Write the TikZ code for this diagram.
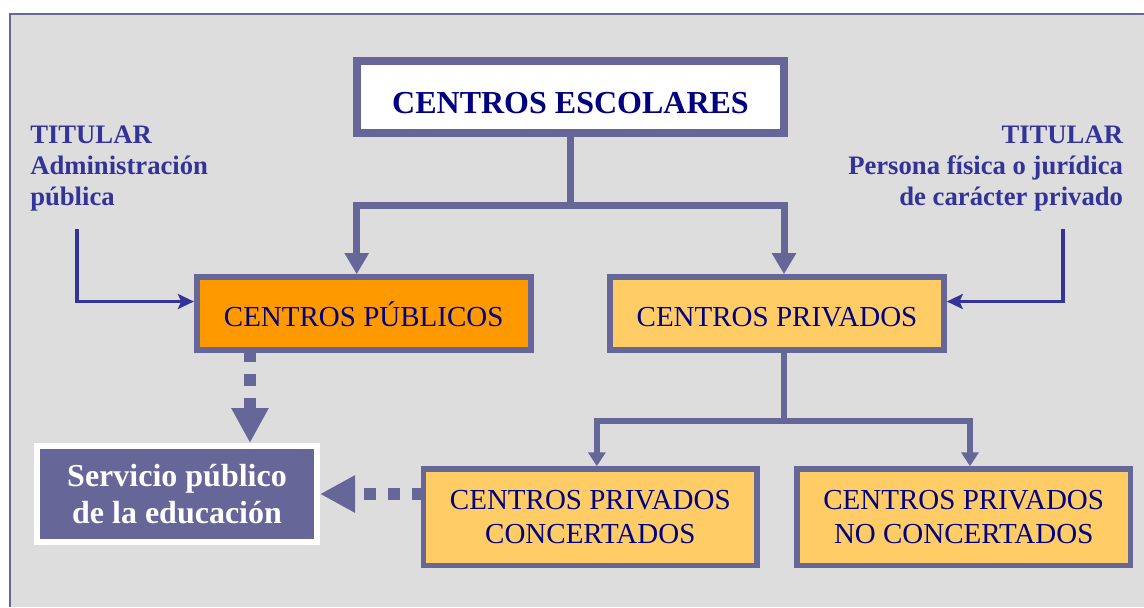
\documentclass[tikz,border=0pt]{standalone}
\usepackage{fontspec}
\setmainfont{Liberation Serif}
\usetikzlibrary{arrows.meta}
\definecolor{frameblue}{RGB}{102,102,153}
\definecolor{navytext}{RGB}{0,0,128}
\definecolor{titblue}{RGB}{51,51,153}
\definecolor{bggray}{RGB}{221,221,221}
\definecolor{pubfill}{RGB}{255,153,0}
\definecolor{privfill}{RGB}{255,204,102}

\begin{document}
\begin{tikzpicture}[x=0.75pt,y=0.75pt,yscale=-1,
  box/.style={draw=frameblue, line width=4.2pt, inner sep=0pt, text=navytext, align=center,
    minimum width=250.5pt, minimum height=54.75pt, font=\fontsize{21.75}{25.5}\selectfont},
  topbox/.style={box, fill=white, line width=6pt, minimum width=320.25pt, minimum height=54pt,
    font=\bfseries\fontsize{24}{28}\selectfont, text height=24.5pt, text depth=0pt},
  pubbox/.style={box, fill=pubfill, text height=18.75pt, text depth=0pt},
  privbox/.style={box, fill=privfill, text height=18.75pt, text depth=0pt},
  subbox/.style={box, fill=privfill, minimum width=250pt, minimum height=72.2pt},
  servbox/.style={draw=white, line width=4.5pt, fill=frameblue, inner sep=0pt, text=white, align=center,
    minimum width=210pt, minimum height=72pt, font=\bfseries\fontsize{24}{27.5}\selectfont},
  titular/.style={inner sep=0pt, text=titblue, font=\bfseries\fontsize{20}{23.25}\selectfont},
  trunk/.style={draw=frameblue, line width=5.25pt},
  branch/.style={draw=frameblue, line width=4.5pt},
  trunktip/.style={-{Triangle[width=17.25pt,length=15.75pt]}},
  branchtip/.style={-{Triangle[width=12.75pt,length=10.5pt]}},
  dotarrow/.style={draw=frameblue, line width=9pt, dash pattern=on 9pt off 9pt, dash phase=2.25pt,
    -{Triangle[width=26.25pt,length=26.25pt]}},
  titarrow/.style={draw=titblue, line width=2.7pt, -{Stealth[length=12pt,width=11.25pt,inset=2.5pt]}}
]
\useasboundingbox (0,0) rectangle (1144,607);

%Shape: Rectangle
\fill[bggray] (10,14) rectangle (1144,607);
%Straight Lines
\draw[frameblue, line width=1.7pt] (1144,14) -- (10,14) -- (10,607);

% Text Node
\node[topbox] (escolares) at (570.5,97) {CENTROS ESCOLARES};
% Text Node
\node[pubbox] (publicos) at (363.7,313.5) {CENTROS PÚBLICOS};
% Text Node
\node[privbox] (privados) at (777,313.5) {CENTROS PRIVADOS};
% Text Node
\node[subbox] (concertados) at (590.3,517.2) {CENTROS PRIVADOS\\CONCERTADOS};
% Text Node
\node[subbox] (noconcert) at (963.7,517.2) {CENTROS PRIVADOS\\NO CONCERTADOS};
% Text Node
\node[servbox] (servicio) at (177,494) {Servicio público\\de la educación};
% Text Node
\node[titular, anchor=north west, align=left] (titpub) at (30,126) {TITULAR\\Administración\\pública};
% Text Node
\node[titular, anchor=north east, align=right] (titpriv) at (1123.3,126) {TITULAR\\Persona física o jurídica\\de carácter privado};

%Straight Lines
\draw[trunk] (escolares.south) -- ++(0,68) coordinate (escjoin);
\draw[trunk, trunktip] (escjoin) -| ([xshift=-5.25pt]publicos.north);
\draw[trunk, trunktip] (escjoin) -| ([xshift=5.25pt]privados.north);
%Straight Lines
\draw[branch] ([xshift=5.25pt]privados.south) -- ++(0,68.3) coordinate (privjoin);
\draw[branch, branchtip] (privjoin) -| ([xshift=4.9pt]concertados.north);
\draw[branch, branchtip] (privjoin) -| ([xshift=4.7pt]noconcert.north);
%Straight Lines
\draw[dotarrow] ([xshift=-85.3pt]publicos.south) -- ([xshift=-85.3pt]publicos.south |- servicio.north);
\draw[dotarrow] (concertados.west |- servicio.east) -- (servicio.east);
%Straight Lines
\coordinate (pubfoot) at (77,229);
\coordinate (privfoot) at (1063,229);
\draw[titarrow] (pubfoot) |- ([yshift=-9pt]publicos.west);
\draw[titarrow] (privfoot) |- ([yshift=-9pt]privados.east);

\end{tikzpicture}
\end{document}
